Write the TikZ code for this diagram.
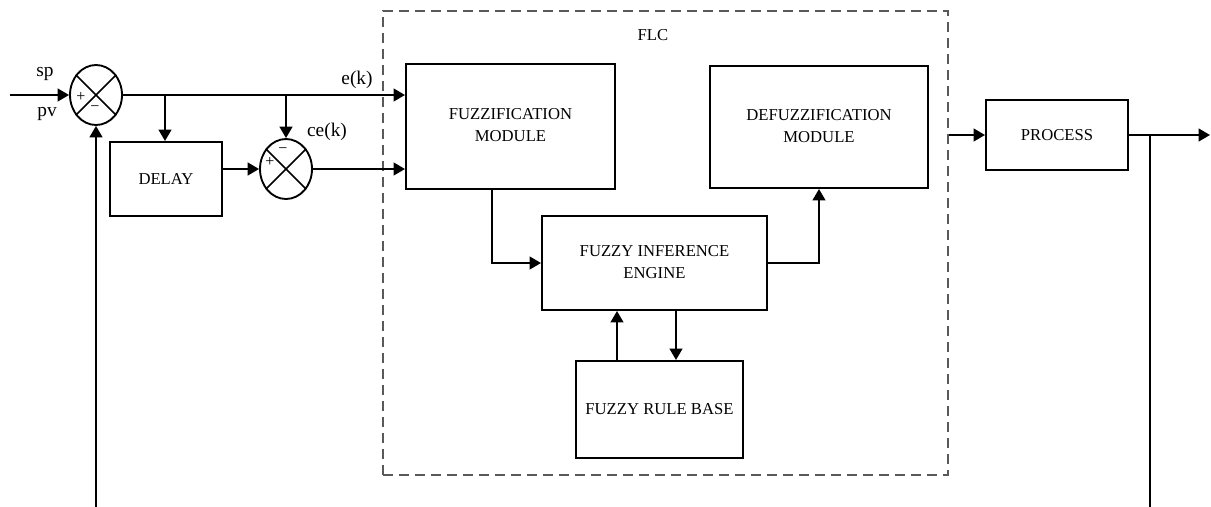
\documentclass[tikz,border=0pt]{standalone}
\usepackage{fontspec}
\setmainfont{Liberation Serif}
\usetikzlibrary{arrows.meta,shapes.geometric}
\newlength\px
\setlength\px{0.75pt}
\newcommand\twolines[3]{\raisebox{#3}{\begin{tabular}{@{}c@{}}#1\\#2\end{tabular}}}
\begin{document}
\begin{tikzpicture}[x=0.75pt,y=-0.75pt,
  box/.style={draw,line width=1.5pt,inner sep=0pt,font=\fontsize{12.5}{16.5}\selectfont},
  sumj/.style={draw,ellipse,line width=1.4pt,minimum width=52\px,minimum height=60\px,inner sep=0pt},
  conn/.style={line width=1.5pt},
  arr/.style={conn,-{Triangle[length=8.5pt,width=9.5pt]}},
  lbl/.style={font=\fontsize{14.5}{17}\selectfont,inner sep=0pt},
  sgn/.style={font=\fontsize{12}{14}\selectfont,inner sep=0pt},
  flcbox/.style={draw=black!65,line width=1.5pt,dash pattern=on 7.5pt off 4.5pt,inner sep=0pt}]
\useasboundingbox (0,0) rectangle (1211,507);

% FLC dashed frame
\node[flcbox,minimum width=565\px,minimum height=464\px] (flc) at (665.5,243) {};
\node[lbl,font=\fontsize{12.5}{14}\selectfont] (flct) at (653,35) {FLC};

% blocks
\node[box,minimum width=209\px,minimum height=125\px] (fuzz) at (510.5,126.5)
  {\twolines{FUZZIFICATION}{MODULE}{5pt}};
\node[box,minimum width=218\px,minimum height=122\px] (defuzz) at (819,127)
  {\twolines{DEFUZZIFICATION}{MODULE}{7pt}};
\node[box,minimum width=225\px,minimum height=94\px] (inf) at (654.5,263)
  {\twolines{FUZZY INFERENCE}{ENGINE}{3pt}};
\node[box,minimum width=167\px,minimum height=97\px] (rule) at (659.5,409.5)
  {FUZZY RULE BASE};
\node[box,minimum width=142\px,minimum height=70\px] (proc) at (1057,135)
  {PROCESS};
\node[box,minimum width=112\px,minimum height=74\px] (delay) at (166,179)
  {DELAY};

% summing junctions
\node[sumj] (s1) at (96,95) {};
\draw[line width=1.1pt] (s1.45) -- (s1.225) (s1.135) -- (s1.315);
\node[sgn] (s1p) at (81,97) {+};
\node[sgn] (s1m) at (95,109) {−};
\node[sumj] (s2) at (286,169) {};
\draw[line width=1.1pt] (s2.45) -- (s2.225) (s2.135) -- (s2.315);
\node[sgn] (s2p) at (270,162) {+};
\node[sgn] (s2m) at (283,151) {−};

% labels
\node[lbl] (sp) at (45,74) {sp};
\node[lbl] (pv) at (47,114) {pv};
\node[lbl] (ek) at (357,80) {e(k)};
\node[lbl] (cek) at (327,132) {ce(k)};

% coordinates
\coordinate (in) at (10,95);
\coordinate (b1) at (165,95);
\coordinate (fb1) at (96,507);
\coordinate (fx) at (492,189);
\coordinate (ru) at (617,361);
\coordinate (rd) at (676,310);
\coordinate (out) at (1210,135);
\coordinate (fb2) at (1150,507);

% connectors
\draw[arr] (in) -- (s1.west);
\draw[arr] (s1.east) -- (s1.east -| fuzz.west);
\draw[arr] (b1) -- (b1 |- delay.north);
\draw[arr] (s2.north |- s1.east) -- (s2.north);
\draw[arr] (s2.west -| delay.east) -- (s2.west);
\draw[arr] (s2.east) -- (s2.east -| fuzz.west);
\draw[arr] (fb1) -- (s1.south);
\draw[arr] (fx) |- (inf.west);
\draw[arr] (inf.east) -| (defuzz.south);
\draw[arr] (ru) -- (ru |- inf.south);
\draw[arr] (rd) -- (rd |- rule.north);
\draw[arr] (flc.east |- proc.west) -- (proc.west);
\draw[arr] (proc.east) -- (out);
\draw[conn] (proc.east -| fb2) -- (fb2);
\end{tikzpicture}
\end{document}
